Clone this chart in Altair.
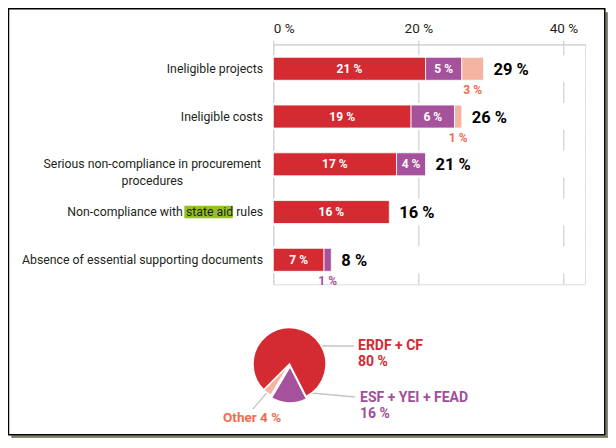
import altair as alt
import pandas as pd

# ---- data ----
categories = [
    "Ineligible projects",
    "Ineligible costs",
    "Serious non-compliance in procurement procedures",
    "Non-compliance with state aid rules",
    "Absence of essential supporting documents",
]
category_labels = [
    "Ineligible projects",
    "Ineligible costs",
    "Serious non-compliance in procurement\nprocedures",
    "Non-compliance with state aid rules",
    "Absence of essential supporting documents",
]
funds = ["ERDF + CF", "ESF + YEI + FEAD", "Other"]
fund_colors = ["#d42a32", "#a5519b", "#f5b3a1"]
erdf_cf = [21, 19, 17, 16, 7]
esf_yei_fead = [5, 6, 4, 0, 1]
other = [3, 1, 0, 0, 0]
totals = [29, 26, 21, 16, 8]
tick_values = [0, 20, 40]
pie_funds = ["ESF + YEI + FEAD", "Other", "ERDF + CF"]
pie_shares = [16, 4, 80]

FONT = "Roboto"
TXT = "#231f20"

# ---- tables built from the arrays ----
rows = []
for i, cat in enumerate(categories):
    start = 0
    for f, vals in zip(funds, [erdf_cf, esf_yei_fead, other]):
        v = vals[i]
        if v > 0:
            rows.append({"category": cat, "fund": f, "value": v, "start": start,
                         "end": start + v, "mid": start + v / 2, "label": f"{v} %",
                         "order": funds.index(f)})
        start += v
seg = pd.DataFrame(rows)
tot = pd.DataFrame({"category": categories, "total": totals,
                    "label": [f"{t} %" for t in totals],
                    "catlabel": category_labels,
                    "two": ["\n" in c for c in category_labels]})
pie_rows = []
acc = 0
for f, s in zip(pie_funds, pie_shares):
    pie_rows.append({"fund": f, "share": s, "start": acc, "end": acc + s,
                     "text": f"{f}\n{s} %"})
    acc += s
pie = pd.DataFrame(pie_rows)
one = pd.DataFrame({"a": [0]})

W, H = 311.8, 240
PL, PT = 265.3, 36.3
SVG_W, SVG_H = 600, 430

xscale = alt.Scale(domain=[0, 43], nice=False)
yenc = alt.Y("category:N", sort=categories, axis=None,
             scale=alt.Scale(paddingInner=0.435, paddingOuter=0.23))
color = alt.Color("fund:N", scale=alt.Scale(domain=funds, range=fund_colors), legend=None)

base = alt.Chart(seg)

bands = alt.Chart(tot).mark_rect(color="white").encode(
    x=alt.value(-2), x2=alt.value(W), y=yenc)

bars = base.mark_bar(size=23, stroke="white", strokeWidth=0.8).encode(
    x=alt.X("start:Q", scale=xscale,
            axis=alt.Axis(orient="top", values=tick_values, labelExpr="datum.value + ' %'",
                          grid=True, gridColor="#d0d0d0", domainColor="#d0d0d0",
                          tickColor="#d0d0d0", tickSize=4, labelFontSize=13.5,
                          labelColor=TXT, labelPadding=5, title=None, labelFont=FONT,
                          gridWidth=1.2, domainWidth=1.2, tickWidth=1.2)),
    x2="end:Q", y=yenc, color=color, order="order:Q")

inside = base.transform_filter("datum.value >= 4").mark_text(
    color="white", fontWeight="bold", fontSize=12, font=FONT).encode(
    x="mid:Q", y=yenc, text="label:N")

below_other = base.transform_filter("datum.value < 4 && datum.fund == 'Other'").mark_text(
    color="#f26b4f", fontWeight="bold", fontSize=12, font=FONT, dy=21).encode(
    x="mid:Q", y=yenc, text="label:N")

below_esf = base.transform_filter("datum.value < 4 && datum.fund == 'ESF + YEI + FEAD'").mark_text(
    color="#a5519b", fontWeight="bold", fontSize=12, font=FONT, dy=21).encode(
    x="mid:Q", y=yenc, text="label:N")

total_txt = alt.Chart(tot).mark_text(
    align="left", dx=10, dy=1, fontWeight="bold", fontSize=16.5, font=FONT, color="black").encode(
    x=alt.X("total:Q", scale=xscale), y=yenc, text="label:N")

highlight = alt.Chart(one).mark_rect(color="#95c11f").encode(
    x=alt.value(-89), x2=alt.value(-40.5), y=alt.value(161.5), y2=alt.value(174))

cat_txt = alt.Chart(tot).transform_filter("!datum.two").mark_text(
    align="right", fontSize=12.3, font=FONT, color=TXT).encode(
    x=alt.value(-10.3), y=yenc, text="catlabel:N")

cat_txt2 = alt.Chart(tot).transform_filter("datum.two").mark_text(
    align="center", fontSize=12.3, font=FONT, color=TXT, lineBreak="\n", lineHeight=16.5).encode(
    x=alt.value(-121), y=yenc, text="catlabel:N")

# ---- pie ----
theta = alt.Theta("start:Q", scale=alt.Scale(domain=[0, 100], range=[2.670, 8.953]), stack=None)
pie_main = alt.Chart(pie).transform_filter("datum.fund != 'ESF + YEI + FEAD'").mark_arc(
    stroke="white", strokeWidth=1.5).encode(
    theta=theta, theta2="end:Q", color=color,
    x=alt.value(16.2), y=alt.value(319.7), radius=alt.value(36.5))
pie_out = alt.Chart(pie).transform_filter("datum.fund == 'ESF + YEI + FEAD'").mark_arc(
    stroke="white", strokeWidth=1.5).encode(
    theta=theta, theta2="end:Q", color=color,
    x=alt.value(16.7), y=alt.value(322.2), radius=alt.value(36.5))

def seg_rule(x1, y1, x2, y2, w, c):
    return alt.Chart(one).mark_rule(strokeWidth=w, color=c).encode(
        x=alt.value(x1), y=alt.value(y1), x2=alt.value(x2), y2=alt.value(y2))

leaders = [
    seg_rule(26.7, 301.7, 80.7, 301.7, 1.5, "#c4c4c4"),
    seg_rule(26.7, 301.7, 46.7, 301.7, 3.5, "#d4d4d4"),
    seg_rule(16.7, 346.7, 81.7, 352.7, 1.5, "#c4c4c4"),
    seg_rule(16.7, 346.7, 34.7, 348.4, 3.5, "#d4d4d4"),
    seg_rule(-20.3, 364.7, 1.7, 338.7, 1.3, "#c4c4c4"),
]

lab1 = alt.Chart(pie).transform_filter("datum.fund == 'ERDF + CF'").mark_text(
    align="left", fontWeight="bold", fontSize=14, font=FONT, color="#d42a32",
    lineBreak="\n", lineHeight=16).encode(x=alt.value(84.7), y=alt.value(301.7), text="text:N")
lab2 = alt.Chart(pie).transform_filter("datum.fund == 'ESF + YEI + FEAD'").mark_text(
    align="left", fontWeight="bold", fontSize=14, font=FONT, color="#a0509a",
    lineBreak="\n", lineHeight=16).encode(x=alt.value(86.7), y=alt.value(353.2), text="text:N")
lab3 = alt.Chart(pie).transform_filter("datum.fund == 'Other'").transform_calculate(
    t="datum.fund + ' ' + datum.share + ' %'").mark_text(
    align="left", fontWeight="bold", fontSize=13.5, font=FONT, color="#f26b4f").encode(
    x=alt.value(-50.3), y=alt.value(373.4), text="t:N")

# ---- frame and shadow ----
RX = SVG_W - PL          # right edge of the svg in plot coords
BY = SVG_H - PT          # bottom edge of the svg in plot coords
frame = alt.Chart(one).mark_rect(fillOpacity=0, stroke="black", strokeWidth=1.5).encode(
    x=alt.value(-264.8), x2=alt.value(RX - 3.2), y=alt.value(-35.5), y2=alt.value(BY - 3.2))
shadows = [
    alt.Chart(one).mark_rect(color=c).encode(
        x=alt.value(-262), x2=alt.value(RX), y=alt.value(y1), y2=alt.value(y2))
    for c, y1, y2 in [("#4d4d38", BY - 2.4, BY - 1.2), ("#8a8a75", BY - 1.2, BY)]
] + [
    alt.Chart(one).mark_rect(color=c).encode(
        x=alt.value(x1), x2=alt.value(x2), y=alt.value(-32), y2=alt.value(BY - 2.4))
    for c, x1, x2 in [("#4d4d38", RX - 2.4, RX - 1.2), ("#8a8a75", RX - 1.2, RX)]
]

chart = alt.layer(
    *shadows, frame, bands, bars, inside, below_other, below_esf, total_txt,
    highlight, cat_txt, cat_txt2, *leaders, pie_main, pie_out, lab1, lab2, lab3,
).properties(
    width=W, height=H,
    autosize=alt.AutoSizeParams(type="none"),
    padding={"left": PL, "top": PT, "right": SVG_W - PL - W, "bottom": SVG_H - PT - H},
).configure_view(stroke=None).configure(font=FONT)

chart.save("out.html", embed_options={"renderer": "svg", "actions": False})
